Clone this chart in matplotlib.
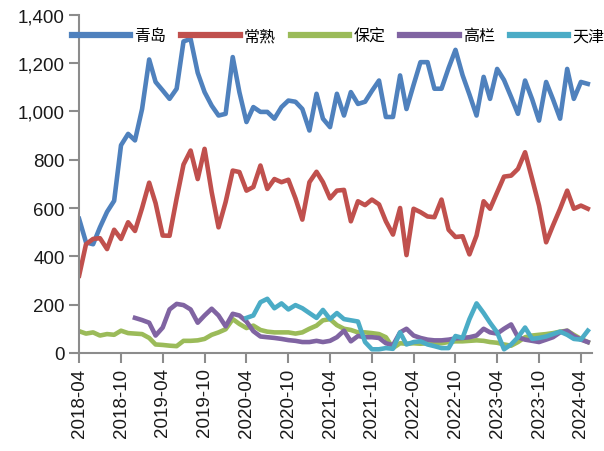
import numpy as np
import pandas as pd
import matplotlib
matplotlib.use('Agg')
import matplotlib.pyplot as plt
import matplotlib.dates as mdates
from matplotlib.ticker import FuncFormatter

plt.rcParams['font.family'] = ['Liberation Sans', 'Noto Sans CJK SC', 'DejaVu Sans']

# monthly data, 2018-04 .. 2024-05
months = pd.date_range('2018-04-01', periods=74, freq='MS')
tick_dates = pd.date_range('2018-04-01', '2024-04-01', freq='6MS')

series_names = ['青岛', '常熟', '保定', '高栏', '天津']
series_colors = ['#4F81BD', '#C0504D', '#9BBB59', '#8064A2', '#4BACC6']

qingdao = [555, 458, 450, 520, 584, 630, 860, 907, 880, 1010,
           1215, 1122, 1087, 1052, 1094, 1290, 1300, 1160, 1080, 1024,
           983, 990, 1225, 1080, 956, 1018, 998, 998, 970, 1018,
           1045, 1040, 1010, 921, 1073, 970, 935, 1073, 983, 1080,
           1031, 1040, 1085, 1128, 977, 977, 1149, 1010, 1110, 1204,
           1204, 1094, 1094, 1180, 1255, 1150, 1070, 983, 1143, 1052,
           1176, 1130, 1060, 990, 1128, 1050, 962, 1122, 1050, 970,
           1176, 1052, 1122, 1114]

changshu = [320, 450, 472, 475, 430, 510, 472, 541, 505, 600,
            705, 620, 486, 485, 640, 780, 838, 720, 845, 666,
            520, 625, 755, 749, 672, 687, 776, 679, 720, 707,
            717, 640, 552, 707, 750, 707, 640, 672, 675, 545,
            628, 612, 635, 615, 545, 490, 600, 405, 597, 583,
            565, 562, 635, 510, 480, 483, 408, 486, 628, 597,
            665, 730, 734, 762, 831, 720, 610, 458, 528, 597,
            672, 597, 610, 597]

baoding = [90, 80, 85, 72, 78, 75, 92, 82, 80, 78,
           62, 35, 33, 30, 28, 50, 50, 52, 58, 75,
           85, 98, 140, 120, 103, 113, 95, 88, 85, 85,
           85, 80, 85, 100, 113, 135, 140, 115, 100, 95,
           85, 85, 82, 78, 65, 20, 40, 38, 40, 38,
           40, 42, 40, 45, 48, 48, 50, 52, 50, 45,
           42, 35, 30, 45, 65, 72, 75, 78, 82, 88,
           92, 75, 58, 45]

gaolan = [np.nan] * 8 + [
    145, 136,
    125, 72, 105, 180, 203, 198, 180, 125, 155, 183,
    155, 110, 162, 155, 130, 90, 68, 65, 62, 58,
    53, 50, 45, 45, 50, 45, 50, 65, 92, 48,
    70, 65, 65, 62, 40, 32, 85, 100, 72, 62,
    55, 52, 52, 55, 60, 62, 65, 72, 100, 85,
    80, 100, 118, 65, 55, 50, 45, 55, 65, 85,
    92, 70, 55, 45]

tianjin = [np.nan] * 24 + [
    145, 155, 210, 224, 185, 205,
    180, 198, 185, 165, 145, 178, 140, 165, 140, 135,
    130, 45, 15, 15, 20, 17, 85, 35, 45, 48,
    35, 28, 20, 20, 70, 62, 140, 205, 165, 125,
    85, 15, 35, 65, 105, 58, 62, 68, 78, 88,
    75, 58, 55, 92]

fig = plt.figure(figsize=(6.04, 4.52), dpi=100)
ax = fig.add_axes([0.131, 0.217, 0.849, 0.748])

for name, color, vals in zip(series_names, series_colors,
                             [qingdao, changshu, baoding, gaolan, tianjin]):
    ax.plot(months, vals, color=color, lw=3.3, label=name, solid_joinstyle='round')

ax.set_ylim(0, 1400)
ax.set_yticks(range(0, 1401, 200))
ax.yaxis.set_major_formatter(FuncFormatter(lambda v, p: f'{int(v):,}'))
ax.set_xlim(months[0], pd.Timestamp('2024-05-19'))
ax.set_xticks(tick_dates)
ax.xaxis.set_major_formatter(mdates.DateFormatter('%Y-%m'))
plt.setp(ax.get_xticklabels(), rotation=90)

for s in ['top', 'right']:
    ax.spines[s].set_visible(False)
for s in ['left', 'bottom']:
    ax.spines[s].set_color('#8c8c8c')
    ax.spines[s].set_linewidth(1.5)
ax.tick_params(axis='both', colors='#8c8c8c', length=7, width=1.5,
               labelsize=13.5, labelcolor='#1a1a1a')

leg = ax.legend(loc='center', bbox_to_anchor=(0.505, 0.938), ncol=5,
                frameon=False, handlelength=3.65, handletextpad=0.25,
                columnspacing=0.95,
                prop={'family': ['Noto Sans CJK SC', 'DejaVu Sans'], 'size': 11.5})
for line in leg.get_lines():
    line.set_linewidth(4.5)

fig.savefig('out.png', dpi=100)
